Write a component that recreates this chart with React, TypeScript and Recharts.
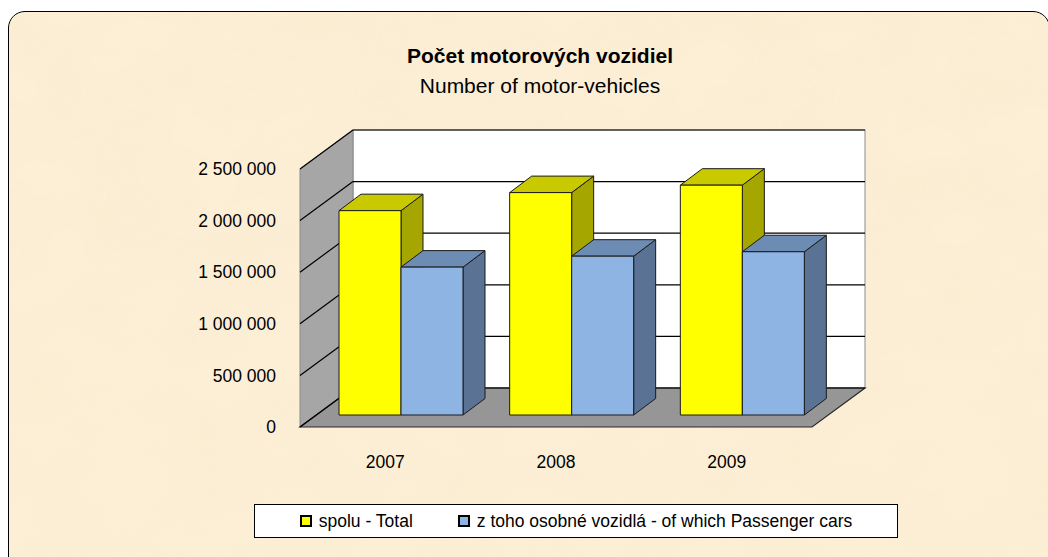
import React from "react";
import { BarChart, Bar, XAxis, YAxis, CartesianGrid, Legend } from "recharts";

const years = ["2007", "2008", "2009"];
const totalVehicles = [1980000, 2155000, 2227000];
const passengerCars = [1433000, 1539000, 1582000];
const yTicks = [0, 500000, 1000000, 1500000, 2000000, 2500000];
const seriesNames = ["spolu - Total", "z toho osobné vozidlá - of which Passenger cars"];

const data = years.map((year, i) => ({
  year,
  total: totalVehicles[i],
  cars: passengerCars[i],
}));

const FONT = '"Liberation Sans", Arial, Helvetica, sans-serif';

// oblique depth of the floor / walls and of the boxes
const WALL_DX = 53;
const WALL_DY = -39;
const BAR_SHIFT_X = 16;
const BAR_SHIFT_Y = -12;
const BAR_DX = 22;
const BAR_DY = -16.5;

const YELLOW = "#ffff00";
const BLUE = "#8eb4e3";
const shades: Record<string, { top: string; side: string }> = {
  [YELLOW]: { top: "#c9c900", side: "#a6a600" },
  [BLUE]: { top: "#6d8cb3", side: "#5a7293" },
};

const pts = (arr: number[][]) => arr.map((p) => p.join(",")).join(" ");

const fmt = (v: number) => String(v).replace(/\B(?=(\d{3})+(?!\d))/g, " ");

function Box3D(props: any) {
  const { x, y, width, height, fill } = props;
  if (width == null || height == null || !isFinite(y)) return null;
  const { top, side } = shades[fill];
  const fx = x + BAR_SHIFT_X;
  const fy = y + BAR_SHIFT_Y;
  const rx = fx + width;
  const by = fy + height;
  return (
    <g stroke="#1a1a1a" strokeWidth={1} strokeLinejoin="round">
      <polygon
        points={pts([[rx, fy], [rx + BAR_DX, fy + BAR_DY], [rx + BAR_DX, by + BAR_DY], [rx, by]])}
        fill={side}
      />
      <polygon
        points={pts([[fx, fy], [fx + BAR_DX, fy + BAR_DY], [rx + BAR_DX, fy + BAR_DY], [rx, fy]])}
        fill={top}
      />
      <rect x={fx} y={fy} width={width} height={height} fill={fill} />
    </g>
  );
}

// walls + floor are painted with the first grid line so the lines stay on top of them
function gridLine(props: any) {
  const { x1, x2, y1, index, x, y, width, height } = props;
  const line = (
    <g stroke="#000" strokeWidth={1.2}>
      <line x1={x1} y1={y1} x2={x1 + WALL_DX} y2={y1 + WALL_DY} />
      <line x1={x1 + WALL_DX} y1={y1 + WALL_DY} x2={x2 + WALL_DX} y2={y1 + WALL_DY} />
    </g>
  );
  if (index !== 0) return <g key={`gl-${index}`}>{line}</g>;
  const l = x;
  const r = x + width;
  const t = y;
  const b = y + height;
  return (
    <g key={`gl-${index}`}>
      <rect
        x={l + WALL_DX}
        y={t + WALL_DY}
        width={width}
        height={height}
        fill="#fff"
        stroke="#8c8c8c"
        strokeWidth={1}
      />
      <polygon
        points={pts([[l, t], [l + WALL_DX, t + WALL_DY], [l + WALL_DX, b + WALL_DY], [l, b]])}
        fill="#a6a6a6"
        stroke="#8a8a8a"
        strokeWidth={1}
      />
      <polygon
        points={pts([[l, b], [r, b], [r + WALL_DX, b + WALL_DY], [l + WALL_DX, b + WALL_DY]])}
        fill="#969696"
        stroke="#2a2a2a"
        strokeWidth={1.2}
      />
      {line}
    </g>
  );
}

function LegendBox(props: any) {
  const items = props.payload || [];
  return (
    <div
      style={{
        boxSizing: "border-box",
        height: 34,
        border: "1.5px solid #000",
        background: "#fff",
        display: "flex",
        alignItems: "center",
        justifyContent: "center",
        gap: 45,
        fontFamily: FONT,
        fontSize: 17.5,
        color: "#000",
      }}
    >
      {items.map((it: any) => (
        <div key={it.value} style={{ display: "flex", alignItems: "center", gap: 7 }}>
          <span
            style={{
              display: "inline-block",
              boxSizing: "border-box",
              width: 12,
              height: 12,
              border: "2px solid #000",
              background: it.color,
            }}
          />
          <span>{it.value}</span>
        </div>
      ))}
    </div>
  );
}

function Parchment() {
  return (
    <svg width={1048} height={557} style={{ position: "absolute", left: 0, top: 0 }}>
      <defs>
        <filter id="paper" x="0" y="0" width="100%" height="100%">
          <feTurbulence type="fractalNoise" baseFrequency="0.012 0.018" numOctaves={3} seed={7} />
          <feColorMatrix
            type="matrix"
            values="0 0 0 0 0.93  0 0 0 0 0.82  0 0 0 0 0.6  0 0 0 -1.6 1.05"
          />
        </filter>
      </defs>
      <rect x={0} y={0} width={1048} height={557} filter="url(#paper)" opacity={0.35} />
    </svg>
  );
}

export default function App() {
  return (
    <div
      style={{
        position: "absolute",
        left: 0,
        top: 0,
        width: 1048,
        height: 557,
        overflow: "hidden",
        background: "#fff",
      }}
    >
      <div
        style={{
          position: "absolute",
          left: 8,
          top: 11,
          width: 1042,
          height: 570,
          boxSizing: "border-box",
          border: "1.5px solid #000",
          borderRadius: 17,
          background: "#fcefd6",
          overflow: "hidden",
        }}
      >
        <div style={{ position: "absolute", left: -8, top: -11 }}>
          <Parchment />
        </div>
      </div>
      <div
        style={{
          position: "absolute",
          left: 0,
          top: 41,
          width: 1080,
          textAlign: "center",
          fontFamily: FONT,
          fontSize: 21,
          lineHeight: "30px",
          color: "#000",
        }}
      >
        <div style={{ fontWeight: "bold" }}>Počet motorových vozidiel</div>
        <div>Number of motor-vehicles</div>
      </div>
      <div style={{ position: "absolute", left: 0, top: 0 }}>
        <BarChart
          width={1048}
          height={557}
          data={data}
          margin={{ top: 169, right: 236, bottom: 80, left: 180 }}
          barGap={0}
        >
          <CartesianGrid vertical={false} horizontal={gridLine} stroke="#000" />
          <XAxis
            dataKey="year"
            axisLine={false}
            tickLine={false}
            tickSize={0}
            tickMargin={29}
            height={50}
            tick={{ fill: "#000", fontSize: 17.5, fontFamily: FONT }}
          />
          <YAxis
            type="number"
            domain={[0, 2500000]}
            ticks={yTicks}
            interval={0}
            axisLine={false}
            tickLine={false}
            tickSize={0}
            tickMargin={24}
            width={120}
            tickFormatter={fmt}
            tick={{ fill: "#000", fontSize: 17.5, fontFamily: FONT, width: 110 }}
          />
          <Bar
            dataKey="total"
            name={seriesNames[0]}
            fill={YELLOW}
            barSize={62}
            shape={Box3D}
            isAnimationActive={false}
          />
          <Bar
            dataKey="cars"
            name={seriesNames[1]}
            fill={BLUE}
            barSize={62}
            shape={Box3D}
            isAnimationActive={false}
          />
          <Legend
            layout="horizontal"
            verticalAlign="middle"
            align="center"
            width={644}
            wrapperStyle={{ left: 254, top: 504, width: 644 }}
            content={LegendBox}
          />
        </BarChart>
      </div>
    </div>
  );
}
